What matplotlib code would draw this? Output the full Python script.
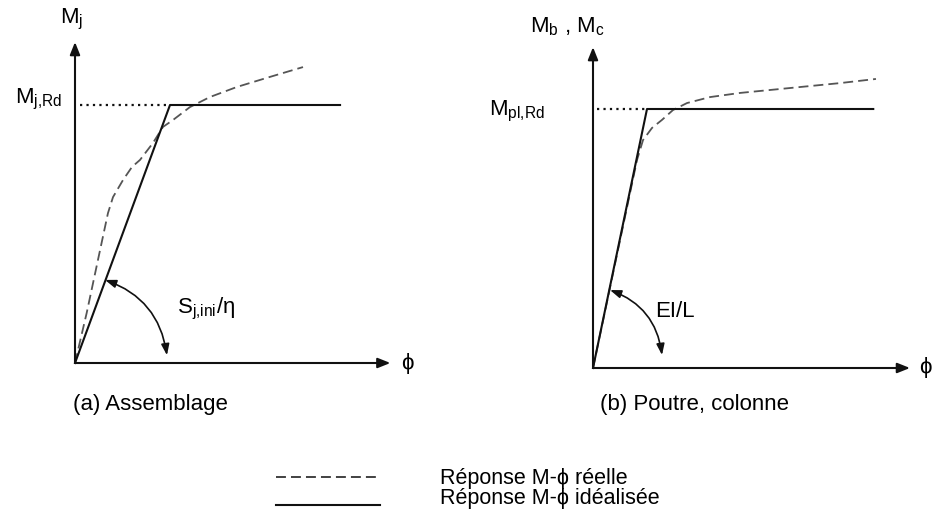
import matplotlib
matplotlib.use("Agg")
import matplotlib.pyplot as plt
from matplotlib.lines import Line2D

plt.rcParams['font.family'] = ['Liberation Sans', 'DejaVu Sans']
plt.rcParams['mathtext.fontset'] = 'custom'
plt.rcParams['mathtext.rm'] = 'Liberation Sans'
plt.rcParams['mathtext.it'] = 'Liberation Sans'

# --- data (phi, M), M normalised to the design moment resistance ---
# (a) assemblage
phi_a_ideal = [0.0, 1.0, 2.79]
m_a_ideal = [0.0, 1.0, 1.0]
phi_a_real = [0.0, 0.123, 0.242, 0.347, 0.40, 0.505, 0.60, 0.684, 0.821,
              0.926, 1.032, 1.21, 1.421, 1.705, 2.053, 2.40]
m_a_real = [0.0, 0.194, 0.40, 0.581, 0.643, 0.709, 0.76, 0.787, 0.853,
            0.915, 0.942, 0.992, 1.031, 1.07, 1.109, 1.147]
phi_a_axis = 3.32
m_a_axis = 1.244

# (b) poutre, colonne
phi_b_ideal = [0.0, 1.0, 5.19]
m_b_ideal = [0.0, 1.0, 1.0]
phi_b_real = [0.0, 0.815, 0.926, 1.093, 1.278, 1.481, 1.741, 2.167, 2.722,
              3.648, 4.574, 5.24]
m_b_real = [0.0, 0.803, 0.88, 0.927, 0.958, 0.996, 1.023, 1.046, 1.062,
            1.081, 1.100, 1.116]
phi_b_axis = 5.87
m_b_axis = 1.239

labels_legend = ['Réponse M-ϕ réelle', 'Réponse M-ϕ idéalisée']

W, H = 933, 514
fig = plt.figure(figsize=(W / 100, H / 100), dpi=100)

REAL = dict(color='#555555', lw=1.3, dashes=(5.5, 2.8))
IDEAL = dict(color='#111111', lw=1.5)
DOT = dict(color='#111111', lw=1.6, dashes=(1, 1.9))
FS = 16


def panel(x0, y0, sx, sy):
    # axes spanning the figure, origin of the diagram at pixel (x0, y0)
    ax = fig.add_axes([0, 0, 1, 1])
    ax.set_xlim(-x0 / sx, (W - x0) / sx)
    ax.set_ylim(-(H - y0) / sy, y0 / sy)
    ax.set_axis_off()
    ax.patch.set_alpha(0)
    return ax


def axis_arrows(ax, xtip, ytip):
    ap = dict(arrowstyle='-|>,head_length=0.5,head_width=0.2', lw=1.5,
              color='#111111', shrinkA=0, shrinkB=0, mutation_scale=15)
    ax.annotate('', xy=(xtip, 0), xytext=(0, 0), arrowprops=ap)
    ax.annotate('', xy=(0, ytip), xytext=(0, 0), arrowprops=ap)


def angle_arc(ax, p1, p2):
    ap = dict(arrowstyle='<|-|>,head_length=0.55,head_width=0.2', lw=1.2,
              color='#111111', shrinkA=0, shrinkB=0, mutation_scale=12,
              connectionstyle='arc3,rad=-0.3')
    ax.annotate('', xy=p2, xytext=p1, arrowprops=ap)


# (a)
ax1 = panel(75, 363, 95, 258)
axis_arrows(ax1, phi_a_axis, m_a_axis)
ax1.plot(phi_a_real, m_a_real, **REAL)
ax1.plot([0.05, phi_a_ideal[1]], [1, 1], **DOT)
ax1.plot(phi_a_ideal, m_a_ideal, **IDEAL)
angle_arc(ax1, (0.316, 0.322), (0.968, 0.03))
ax1.text(-0.04, 1.318, r'M$_\text{j}$', fontsize=FS, ha='center', va='baseline')
ax1.text(-0.137, 1.008, r'M$_\text{j,Rd}$', fontsize=FS, ha='right', va='baseline')
ax1.text(3.495, 0.0, 'ϕ', fontsize=FS, ha='center', va='center')
ax1.text(1.074, 0.194, r'S$_\text{j,ini}$/η', fontsize=FS, ha='left', va='baseline')
ax1.text(-0.021, -0.182, '(a) Assemblage', fontsize=FS, ha='left', va='baseline')

# (b)
ax2 = panel(593, 368, 54, 259)
axis_arrows(ax2, phi_b_axis, m_b_axis)
ax2.plot(phi_b_real, m_b_real, **REAL)
ax2.plot([0.074, phi_b_ideal[1]], [1, 1], **DOT)
ax2.plot(phi_b_ideal, m_b_ideal, **IDEAL)
angle_arc(ax2, (0.315, 0.301), (1.278, 0.05))
ax2.text(-1.167, 1.297, r'M$_\text{b}$ , M$_\text{c}$', fontsize=FS, ha='left', va='baseline')
ax2.text(-0.889, 0.977, r'M$_\text{pl,Rd}$', fontsize=FS, ha='right', va='baseline')
ax2.text(6.148, 0.0, 'ϕ', fontsize=FS, ha='center', va='center')
ax2.text(1.148, 0.197, 'EI/L', fontsize=FS, ha='left', va='baseline')
ax2.text(0.13, -0.162, '(b) Poutre, colonne', fontsize=FS, ha='left', va='baseline')

# legend block (figure pixels, from top-left)
key_x = (276, 380)
key_y = (477, 505)
lab_x = 440
lab_y = (484, 504)
key_styles = [dict(color='#333333', lw=1.3, dashes=(5.5, 2.8)),
              dict(color='#111111', lw=1.5)]
for ky, ly, st, lab in zip(key_y, lab_y, key_styles, labels_legend):
    fig.add_artist(Line2D([key_x[0] / W, key_x[1] / W], [1 - ky / H, 1 - ky / H],
                          transform=fig.transFigure, **st))
    fig.text(lab_x / W, 1 - ly / H, lab, fontsize=15.5, ha='left', va='baseline')

fig.savefig('out.png', dpi=100)
